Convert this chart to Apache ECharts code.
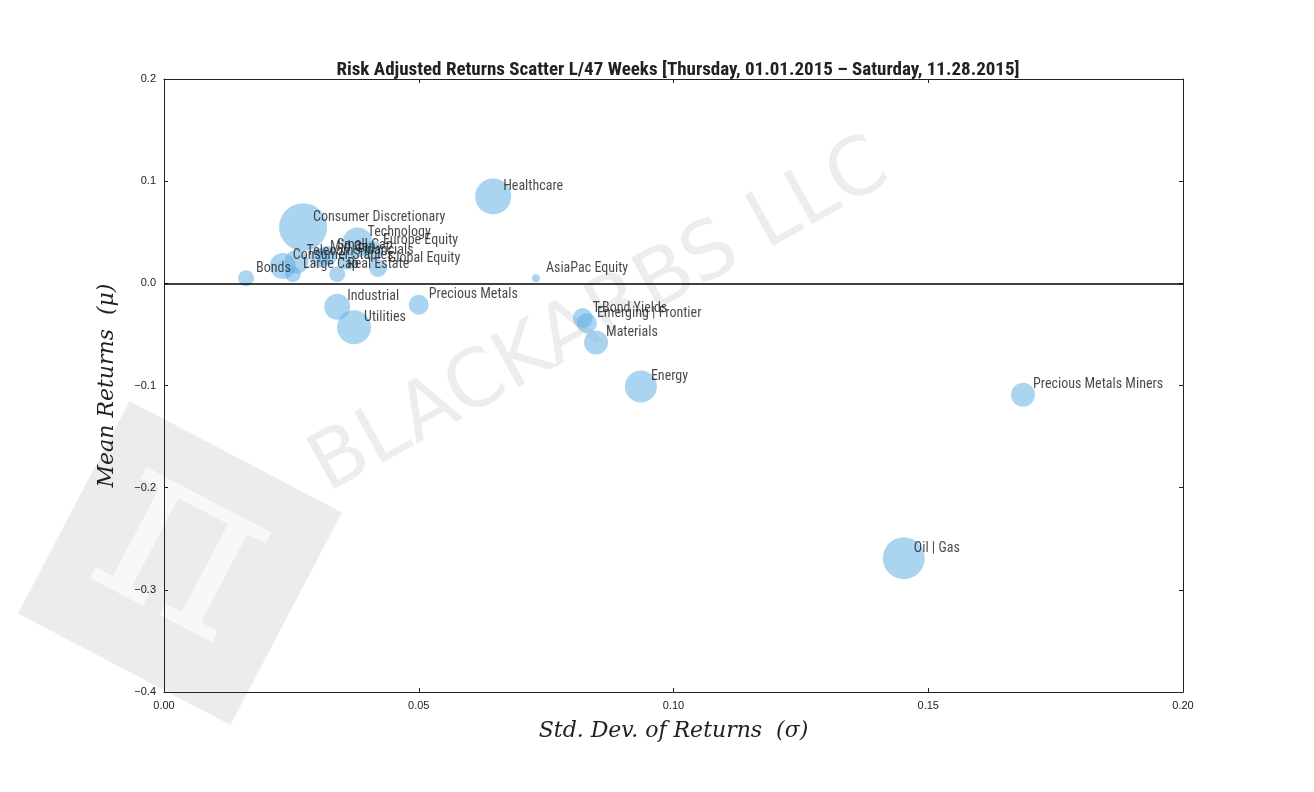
<!DOCTYPE html>
<html><head><meta charset="utf-8">
<script src="https://cdn.jsdelivr.net/npm/echarts@6/dist/echarts.min.js"></script>
<style>html,body{margin:0;background:#fff}#c{width:1314px;height:792px}</style>
</head><body><div id="c"></div>
<script>
const names = ['Bonds','Large Cap','Consumer Staples','Telecom','Consumer Discretionary','Mid Cap','Small Cap','Financials','Real Estate','Technology','Europe Equity','Global Equity','Healthcare','AsiaPac Equity','Industrial','Utilities','Precious Metals','T-Bond Yields','Emerging | Frontier','Materials','Energy','Precious Metals Miners','Oil | Gas'];
const stdDev = [0.0161,0.0253,0.0233,0.026,0.0273,0.0306,0.032,0.036,0.034,0.038,0.041,0.042,0.0646,0.073,0.034,0.0373,0.050,0.0822,0.083,0.0848,0.0936,0.1686,0.1452];
const meanRet = [0.005,0.009,0.017,0.021,0.055,0.025,0.027,0.022,0.009,0.040,0.032,0.015,0.085,0.005,-0.023,-0.043,-0.021,-0.034,-0.039,-0.058,-0.101,-0.109,-0.269];
const sizes = [16,16,26,24,48,20,20,18,16,30,20,18,36,8,26,34,20,20,20,24,32,24,42];

const chart = echarts.init(document.getElementById('c'));
const axLine = { show: true, onZero: false, lineStyle: { color: '#222' } };
const axTick = { inside: true, length: 4, lineStyle: { color: '#222' } };
chart.setOption({
  title: {
    text: 'Risk Adjusted Returns Scatter L/47 Weeks [Thursday, 01.01.2015 – Saturday, 11.28.2015]',
    left: 673, top: 56, textAlign: 'center',
    textStyle: { fontFamily: 'Roboto Condensed, Liberation Sans Narrow, sans-serif', fontSize: 19, fontWeight: 'bold', color: '#222' }
  },
  graphic: [
    { type: 'rect', position: [180, 563], rotation: -Math.PI / 6.5, z: -10,
      shape: { x: -120, y: -120, width: 240, height: 240 }, style: { fill: '#ececec' } },
    { type: 'text', position: [180, 555], rotation: -Math.PI / 6.5, z: -9,
      style: { text: 'π', fill: '#f8f8f8', font: '240px DejaVu Serif', align: 'center', verticalAlign: 'middle' } },
    { type: 'text', position: [600, 318], rotation: Math.PI / 6.2, z: -9,
      style: { text: 'BLACKARBS LLC', fill: 'rgba(0,0,0,0.07)', font: '80px DejaVu Sans', align: 'center', verticalAlign: 'middle' } }
  ],
  grid: { left: 164, right: 131, top: 79, bottom: 100 },
  xAxis: [
    { type: 'value', min: 0, max: 0.2, interval: 0.05, position: 'bottom',
      name: 'Std. Dev. of Returns  (σ)', nameLocation: 'middle', nameGap: 28,
      nameTextStyle: { fontFamily: 'DejaVu Serif', fontStyle: 'italic', fontSize: 22, color: '#222' },
      axisLabel: { color: '#222', fontSize: 11, formatter: v => v.toFixed(2) },
      axisLine: axLine, axisTick: axTick, splitLine: { show: false } },
    { type: 'value', min: 0, max: 0.2, interval: 0.05, position: 'top',
      axisLabel: { show: false }, axisLine: axLine, axisTick: axTick, splitLine: { show: false } }
  ],
  yAxis: [
    { type: 'value', min: -0.4, max: 0.2, interval: 0.1, position: 'left',
      name: 'Mean Returns  (μ)', nameLocation: 'middle', nameGap: 46,
      nameTextStyle: { fontFamily: 'DejaVu Serif', fontStyle: 'italic', fontSize: 22, color: '#222' },
      axisLabel: { color: '#222', fontSize: 11, formatter: v => (v < 0 ? '−' : '') + Math.abs(v).toFixed(1) },
      axisLine: axLine, axisTick: axTick, splitLine: { show: false } },
    { type: 'value', min: -0.4, max: 0.2, interval: 0.1, position: 'right',
      axisLabel: { show: false }, axisLine: axLine, axisTick: axTick, splitLine: { show: false } }
  ],
  series: [{
    type: 'scatter',
    data: names.map((n, i) => ({
      name: n, value: [stdDev[i], meanRet[i]], symbolSize: sizes[i],
      label: { offset: [5 - sizes[i] / 2, -10] }
    })),
    itemStyle: { color: 'rgba(93,173,226,0.65)' },
    label: {
      show: true, position: 'right', formatter: p => p.name,
      color: '#1a1a1a', fontSize: 14,
      fontFamily: 'Roboto Condensed, Liberation Sans Narrow, sans-serif'
    },
    markLine: {
      silent: true, symbol: 'none', label: { show: false },
      lineStyle: { color: '#000', type: 'solid', width: 1.5 },
      data: [{ yAxis: 0 }]
    }
  }]
});
</script></body></html>
